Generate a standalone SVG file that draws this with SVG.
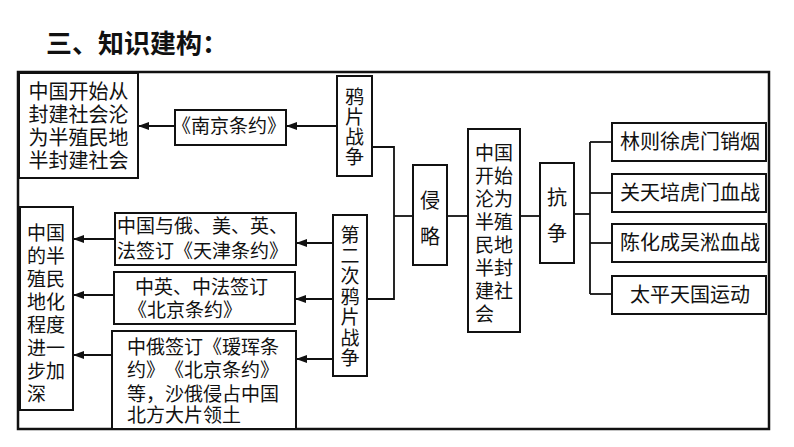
<svg xmlns="http://www.w3.org/2000/svg" width="794" height="447" viewBox="0 0 794 447">
<style>
.box{fill:#fff;stroke:#111;stroke-width:2}
.frame{fill:none;stroke:#111;stroke-width:2.5}
.ln{fill:none;stroke:#111;stroke-width:1.8}
.t{font-family:"Liberation Serif","Noto Sans CJK SC",serif;font-size:19px;fill:#111;text-spacing-trim:space-all}
.c{text-anchor:middle}
.title{font-family:"Noto Sans CJK SC",sans-serif;font-size:26px;font-weight:bold;fill:#111;text-spacing-trim:space-all}
</style>
<defs>
<marker id="ah" markerWidth="11" markerHeight="8" refX="11" refY="4" orient="auto" markerUnits="userSpaceOnUse">
<path d="M0,0 L11,4 L0,8 Z" fill="#111"/>
</marker>
</defs>
<rect width="794" height="447" fill="#fff"/>
<text class="title" x="46" y="53">三、知识建构：</text>
<rect class="frame" x="18" y="72" width="751" height="357"/>

<g id="connectors">
<line class="ln" x1="337" y1="126" x2="286" y2="126" marker-end="url(#ah)"/>
<line class="ln" x1="175" y1="126" x2="138" y2="126" marker-end="url(#ah)"/>
<polyline class="ln" points="372,147 394,147 394,299 366,299"/>
<line class="ln" x1="394" y1="216" x2="413" y2="216"/>
<line class="ln" x1="447" y1="216" x2="468" y2="216"/>
<line class="ln" x1="520" y1="216" x2="540" y2="216"/>
<line class="ln" x1="574" y1="214" x2="590" y2="214"/>
<line class="ln" x1="590" y1="142" x2="590" y2="294"/>
<line class="ln" x1="590" y1="142" x2="612" y2="142"/>
<line class="ln" x1="590" y1="193" x2="612" y2="193"/>
<line class="ln" x1="590" y1="243" x2="612" y2="243"/>
<line class="ln" x1="590" y1="294" x2="612" y2="294"/>
<line class="ln" x1="333" y1="243" x2="296" y2="243" marker-end="url(#ah)"/>
<line class="ln" x1="333" y1="299" x2="295" y2="299" marker-end="url(#ah)"/>
<line class="ln" x1="333" y1="359" x2="296" y2="359" marker-end="url(#ah)"/>
<line class="ln" x1="115" y1="239" x2="73" y2="239" marker-end="url(#ah)"/>
<line class="ln" x1="114" y1="295" x2="73" y2="295" marker-end="url(#ah)"/>
<line class="ln" x1="112" y1="355" x2="73" y2="355" marker-end="url(#ah)"/>
</g>

<g id="n-semicolonial-start">
<rect class="box" x="19" y="73" width="119" height="105"/>
<text class="t c" x="78.5" y="99" style="font-size:20px">中国开始从</text>
<text class="t c" x="78.5" y="122" style="font-size:20px">封建社会沦</text>
<text class="t c" x="78.5" y="145" style="font-size:20px">为半殖民地</text>
<text class="t c" x="78.5" y="168" style="font-size:20px">半封建社会</text>
</g>

<g id="n-nanjing">
<rect class="box" x="175" y="110" width="111" height="35"/>
<text class="t c" x="229" y="133">《南京条约》</text>
</g>

<g id="n-opium1">
<rect class="box" x="337" y="76" width="35" height="100"/>
<text class="t c" x="354.5" y="104">鸦</text>
<text class="t c" x="354.5" y="124">片</text>
<text class="t c" x="354.5" y="144">战</text>
<text class="t c" x="354.5" y="164">争</text>
</g>

<g id="n-deepen">
<rect class="box" x="20" y="207" width="53" height="203"/>
<text class="t" x="27" y="240">中国</text>
<text class="t" x="27" y="263">的半</text>
<text class="t" x="27" y="286">殖民</text>
<text class="t" x="27" y="309">地化</text>
<text class="t" x="27" y="332">程度</text>
<text class="t" x="27" y="355">进一</text>
<text class="t" x="27" y="378">步加</text>
<text class="t" x="27" y="401">深</text>
</g>

<g id="n-tianjin">
<rect class="box" x="115" y="213" width="181" height="52"/>
<text class="t" x="117" y="233">中国与俄、美、英、</text>
<text class="t" x="117" y="258">法签订《天津条约》</text>
</g>

<g id="n-beijing">
<rect class="box" x="114" y="272" width="181" height="52"/>
<text class="t" x="135" y="294">中英、中法签订</text>
<text class="t" x="128" y="317">《北京条约》</text>
</g>

<g id="n-aigun">
<rect class="box" x="112" y="331" width="184" height="98"/>
<text class="t" x="127" y="354">中俄签订《瑷珲条</text>
<text class="t" x="127" y="377">约》《北京条约》</text>
<text class="t" x="127" y="401">等，沙俄侵占中国</text>
<text class="t" x="127" y="422">北方大片领土</text>
</g>

<g id="n-opium2">
<rect class="box" x="333" y="215" width="34" height="161"/>
<text class="t c" x="350" y="242">第</text>
<text class="t c" x="350" y="262.5">二</text>
<text class="t c" x="350" y="283">次</text>
<text class="t c" x="350" y="303.5">鸦</text>
<text class="t c" x="350" y="324">片</text>
<text class="t c" x="350" y="344.5">战</text>
<text class="t c" x="350" y="365">争</text>
</g>

<g id="n-aggression">
<rect class="box" x="413" y="165" width="34" height="100"/>
<text class="t c" x="430" y="208" style="font-size:20px">侵</text>
<text class="t c" x="430" y="244" style="font-size:20px">略</text>
</g>

<g id="n-center">
<rect class="box" x="468" y="129" width="52" height="203"/>
<text class="t" x="475" y="160">中国</text>
<text class="t" x="475" y="183">开始</text>
<text class="t" x="475" y="206">沦为</text>
<text class="t" x="475" y="229">半殖</text>
<text class="t" x="475" y="252">民地</text>
<text class="t" x="475" y="275">半封</text>
<text class="t" x="475" y="298">建社</text>
<text class="t" x="475" y="321">会</text>
</g>

<g id="n-resist">
<rect class="box" x="540" y="163" width="34" height="100"/>
<text class="t c" x="557" y="205" style="font-size:20px">抗</text>
<text class="t c" x="557" y="241" style="font-size:20px">争</text>
</g>

<g id="n-linzexu">
<rect class="box" x="612" y="123" width="154" height="38"/>
<text class="t c" x="690" y="149" style="font-size:20px">林则徐虎门销烟</text>
</g>
<g id="n-guantianpei">
<rect class="box" x="612" y="174" width="154" height="38"/>
<text class="t c" x="690" y="200" style="font-size:20px">关天培虎门血战</text>
</g>
<g id="n-chenhuacheng">
<rect class="box" x="612" y="224" width="154" height="38"/>
<text class="t c" x="690" y="250" style="font-size:20px">陈化成吴淞血战</text>
</g>
<g id="n-taiping">
<rect class="box" x="612" y="276" width="154" height="38"/>
<text class="t c" x="690" y="302" style="font-size:20px">太平天国运动</text>
</g>
</svg>
